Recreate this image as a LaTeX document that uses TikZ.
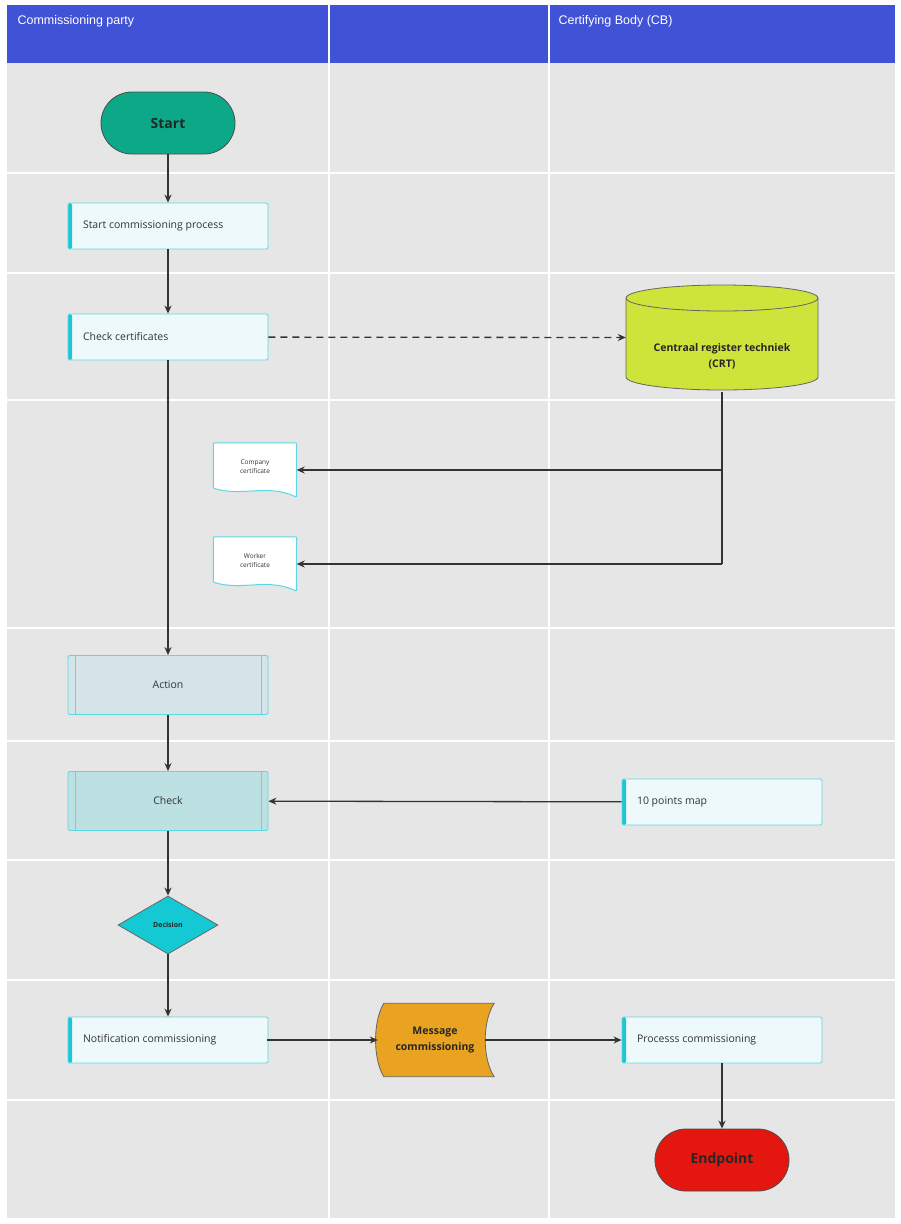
\documentclass[tikz,border=0pt]{standalone}
\usepackage{fontspec}
\setmainfont{Open Sans}
\newfontfamily\hdr{Liberation Sans}
\usetikzlibrary{shapes.geometric,arrows.meta}
\definecolor{hblue}{HTML}{4052D6}
\definecolor{bg}{HTML}{E6E6E6}
\definecolor{cy}{HTML}{5CD8E2}
\definecolor{cyd}{HTML}{1CC6D2}
\definecolor{boxf}{HTML}{EEF9FB}
\definecolor{txt}{HTML}{333333}
\begin{document}
\begin{tikzpicture}[x=1pt,y=-1pt,
  proc/.style={draw=cy,fill=boxf,line width=0.8pt,rounded corners=1.5pt,minimum width=200pt,minimum height=46pt,inner sep=0pt,text=txt,font=\fontsize{10.5}{12}\selectfont,
    path picture={\fill[cyd] (path picture bounding box.north west) rectangle ([xshift=4pt]path picture bounding box.south west);}},
  pp/.style={draw=cy,line width=0.8pt,rounded corners=1.5pt,minimum width=200pt,minimum height=59pt,text=txt,font=\fontsize{10.5}{12}\selectfont,
    path picture={\draw[cy,line width=0.8pt] ([xshift=7pt]path picture bounding box.north west) -- ([xshift=7pt]path picture bounding box.south west);
      \draw[cy,line width=0.8pt] ([xshift=-7pt]path picture bounding box.north east) -- ([xshift=-7pt]path picture bounding box.south east);}},
  term/.style={draw=black!70,line width=0.8pt,rounded corners=31pt,minimum width=134pt,minimum height=62pt,font=\bfseries\fontsize{14}{16}\selectfont},
  arr/.style={draw=black!80,line width=1.3pt,-{Stealth[length=8pt,width=7pt]}},
  doc/.style={minimum width=83pt,minimum height=54pt,text=txt,font=\fontsize{6.5}{9}\selectfont,align=center,inner sep=0pt}
]
\useasboundingbox (0,0) rectangle (900,1224);
\fill[white] (0,0) rectangle (900,1224);
\fill[bg] (7,5) rectangle (895,1218);
\fill[hblue] (7,5) rectangle (895,63);
\foreach \y in {173,273,400,628,741,860,980,1100} \draw[white,line width=1.2pt] (7,\y) -- (895,\y);
\foreach \x in {329,549} \draw[white,line width=1.2pt] (\x,5) -- (\x,1218);
\node[anchor=west,white,font=\hdr\fontsize{12.5}{14}\selectfont] (h1) at (14,21) {Commissioning party};
\node[anchor=west,white,font=\hdr\fontsize{12.5}{14}\selectfont] (h2) at (555,21) {Certifying Body (CB)};

\node[term,fill={rgb,255:red,13;green,168;blue,136},text=black!85] (start) at (168,123) {Start};
\node[proc] (scp) at (168,226) {\hspace*{10pt}\makebox[180pt][l]{Start commissioning process}};
\node[proc] (cc) at (168,337) {\hspace*{10pt}\makebox[180pt][l]{Check certificates}};

\node[minimum width=192pt,minimum height=105pt,inner sep=0pt] (crt) at (722,337.5) {};
\draw[black!60,line width=0.8pt,fill={rgb,255:red,207;green,228;blue,58}]
  (626,298) -- (626,377) arc[start angle=180,end angle=0,x radius=96,y radius=13]
  -- (818,298) arc[start angle=0,end angle=-180,x radius=96,y radius=13] -- cycle;
\draw[black!60,line width=0.8pt] (626,298) arc[start angle=180,end angle=0,x radius=96,y radius=13];
\node[align=center,font=\bfseries\fontsize{10.5}{16}\selectfont,text=black!85] (crtt) at (722,356) {Centraal register techniek\\(CRT)};

\node[doc] (comp) at (255,470) {};
\node[doc] (work) at (255,564) {};
\foreach \n in {comp,work}{
  \draw[cy,fill=white,line width=1pt,rounded corners=1pt] (\n.north west) -- (\n.north east) -- (\n.south east)
    .. controls ([xshift=-30pt,yshift=14pt]\n.south east) and ([xshift=30pt,yshift=0pt]\n.south west) .. ([yshift=9pt]\n.south west) -- cycle;
}
\node[doc] at ([yshift=3pt]comp) {Company\\certificate};
\node[doc] at ([yshift=3pt]work) {Worker\\certificate};

\node[pp,fill={rgb,255:red,212;green,228;blue,232}] (act) at (168,685) {Action};
\node[pp,fill={rgb,255:red,189;green,224;blue,226}] (chk) at (168,801) {Check};
\node[proc] (tpm) at (722,802) {\hspace*{10pt}\makebox[180pt][l]{10 points map}};
\node[diamond,draw=black!60,line width=0.8pt,fill={rgb,255:red,20;green,201;blue,211},minimum width=100pt,minimum height=58pt,inner sep=0pt,font=\bfseries\fontsize{7}{9}\selectfont,text=black!85] (dec) at (168,925) {Decision};
\node[proc] (nc) at (168,1040) {\hspace*{10pt}\makebox[180pt][l]{Notification commissioning}};
\node[minimum width=118pt,minimum height=73pt,inner sep=0pt] (msg) at (435,1040) {};
\draw[black!60,fill={rgb,255:red,233;green,163;blue,33},line width=0.8pt]
  ([xshift=8pt]msg.north west) -- (msg.north east)
  .. controls ([xshift=-12pt,yshift=-18pt]msg.north east) and ([xshift=-12pt,yshift=18pt]msg.south east) .. (msg.south east)
  -- ([xshift=8pt]msg.south west)
  .. controls ([xshift=-3pt,yshift=18pt]msg.south west) and ([xshift=-3pt,yshift=-18pt]msg.north west) .. cycle;
\node[align=center,font=\bfseries\fontsize{10.5}{16}\selectfont,text=black!85] at (msg) {Message\\commissioning};
\node[proc] (pc) at (722,1040) {\hspace*{10pt}\makebox[180pt][l]{Processs commissioning}};
\node[term,fill={rgb,255:red,227;green,23;blue,15},text=black!85] (endp) at (722,1160) {Endpoint};

\draw[arr] (start) -- (scp);
\draw[arr] (scp) -- (cc);
\draw[arr,dashed,dash pattern=on 7pt off 5pt] (cc) -- (crt.west);
\coordinate (j1) at (crt.south |- comp.east);
\coordinate (j2) at (crt.south |- work.east);
\draw[draw=black!80,line width=1.3pt] ([yshift=-2pt]crt.south) -- (j2);
\draw[arr] (j1) -- (comp.east);
\draw[arr] (j2) -- (work.east);
\draw[arr] (cc) -- (act);
\draw[arr] (act) -- (chk);
\draw[arr] (tpm) -- (chk);
\draw[arr] (chk) -- (dec);
\draw[arr] (dec) -- (nc);
\draw[arr] ([xshift=-1pt]nc.east) -- ([xshift=2pt]msg.west);
\draw[arr] ([xshift=-9pt]msg.east) -- (pc);
\draw[arr] (pc) -- (endp);
\end{tikzpicture}
\end{document}
